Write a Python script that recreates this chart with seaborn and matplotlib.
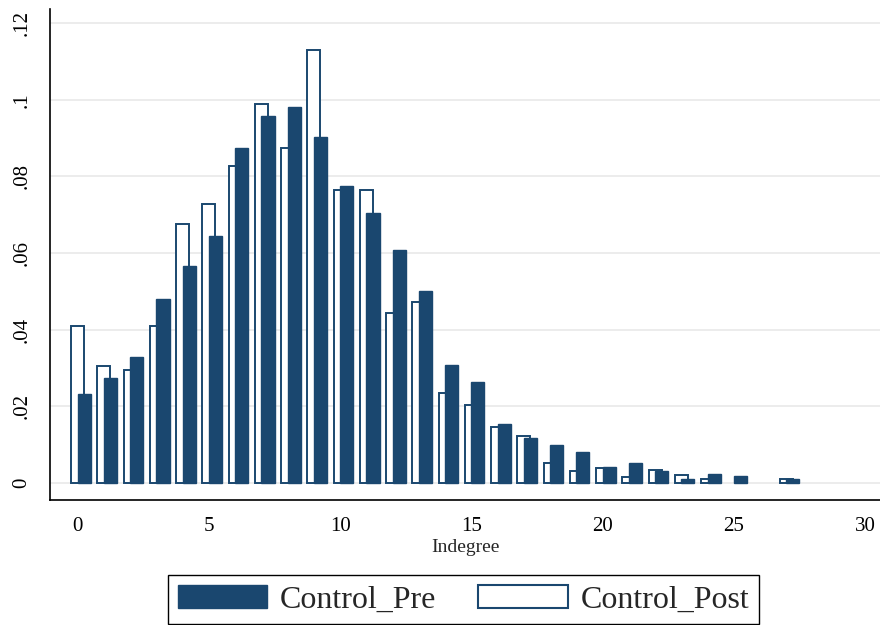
import numpy as np
import pandas as pd
import matplotlib
matplotlib.use("Agg")
import matplotlib.pyplot as plt
from matplotlib.patches import Patch
import seaborn as sns

# Indegree distribution (share of nodes) before and after, control group
indegree = list(range(28))
control_pre = [0.0232, 0.0273, 0.0328, 0.0481, 0.0567, 0.0644, 0.0874, 0.0957,
               0.0982, 0.0904, 0.0776, 0.0704, 0.0608, 0.0501, 0.0309, 0.0263,
               0.0153, 0.0118, 0.0099, 0.0082, 0.0041, 0.0052, 0.0032, 0.0010,
               0.0023, 0.0018, 0.0, 0.0011]
control_post = [0.0410, 0.0305, 0.0295, 0.0410, 0.0676, 0.0729, 0.0826, 0.0988,
                0.0873, 0.1131, 0.0764, 0.0764, 0.0443, 0.0473, 0.0235, 0.0204,
                0.0147, 0.0123, 0.0051, 0.0032, 0.0039, 0.0015, 0.0033, 0.0022,
                0.0010, 0.0, 0.0, 0.0011]

x_ticks = [0, 5, 10, 15, 20, 25, 30]
y_ticks = [0, 0.02, 0.04, 0.06, 0.08, 0.10, 0.12]
y_tick_labels = ["0", ".02", ".04", ".06", ".08", ".1", ".12"]
series_labels = ["Control_Pre", "Control_Post"]
x_label = "Indegree"

NAVY = "#1a476f"

sns.set_style("white")
plt.rcParams["font.family"] = ["Liberation Serif", "DejaVu Serif"]

fig = plt.figure(figsize=(8.8, 6.25), dpi=100)
ax = fig.add_axes([50 / 880, 1 - 500 / 625, 830 / 880, 490.7 / 625])

pre = pd.DataFrame({"indegree": indegree, "share": control_pre})
post = pd.DataFrame({"indegree": indegree, "share": control_post})
pre = pre[pre["share"] > 0].copy()
post = post[post["share"] > 0].copy()
# the pre bars sit a quarter unit to the right of the post bars
pre["pos"] = pre["indegree"] + 0.25
post["pos"] = post["indegree"].astype(float)

sns.barplot(data=post, x="pos", y="share", native_scale=True, width=0.5,
            color="white", edgecolor=NAVY, linewidth=1.4, saturation=1,
            errorbar=None, ax=ax, zorder=2)
sns.barplot(data=pre, x="pos", y="share", native_scale=True, width=0.5,
            color=NAVY, edgecolor=NAVY, linewidth=1.0, saturation=1,
            errorbar=None, ax=ax, zorder=3)

ax.set_xlim(-1.055, 30.57)
ax.set_ylim(-0.00443, 0.1236)
ax.set_xticks(x_ticks)
ax.set_xticklabels([str(t) for t in x_ticks], fontsize=15)
ax.set_yticks(y_ticks)
ax.set_yticklabels(y_tick_labels, fontsize=15, rotation=90, va="center")
ax.set_xlabel(x_label, fontsize=14, labelpad=2)
ax.set_ylabel("")

ax.yaxis.grid(True, color="#eaeaea", linewidth=1.3, zorder=0)
ax.xaxis.grid(False)
ax.set_axisbelow(True)
for side in ["top", "right"]:
    ax.spines[side].set_visible(False)
for side in ["left", "bottom"]:
    ax.spines[side].set_color("black")
    ax.spines[side].set_linewidth(1.2)
ax.tick_params(axis="both", direction="out", length=6.5, width=1.0,
               color="black", labelcolor="black")
ax.tick_params(axis="y", pad=7)
ax.tick_params(axis="x", pad=6)

handles = [Patch(facecolor=NAVY, edgecolor=NAVY, linewidth=1.0),
           Patch(facecolor="white", edgecolor=NAVY, linewidth=1.5)]
leg = fig.legend(handles, series_labels, loc="lower center",
                 bbox_to_anchor=(463.5 / 880, 1 / 625), ncol=2,
                 fontsize=23, handlelength=2.8, handleheight=0.75,
                 handletextpad=0.4, columnspacing=1.3, borderpad=0.3,
                 borderaxespad=0, fancybox=False, framealpha=1)
leg.get_frame().set_edgecolor("black")
leg.get_frame().set_linewidth(1.0)

fig.savefig("out.png", dpi=100)
